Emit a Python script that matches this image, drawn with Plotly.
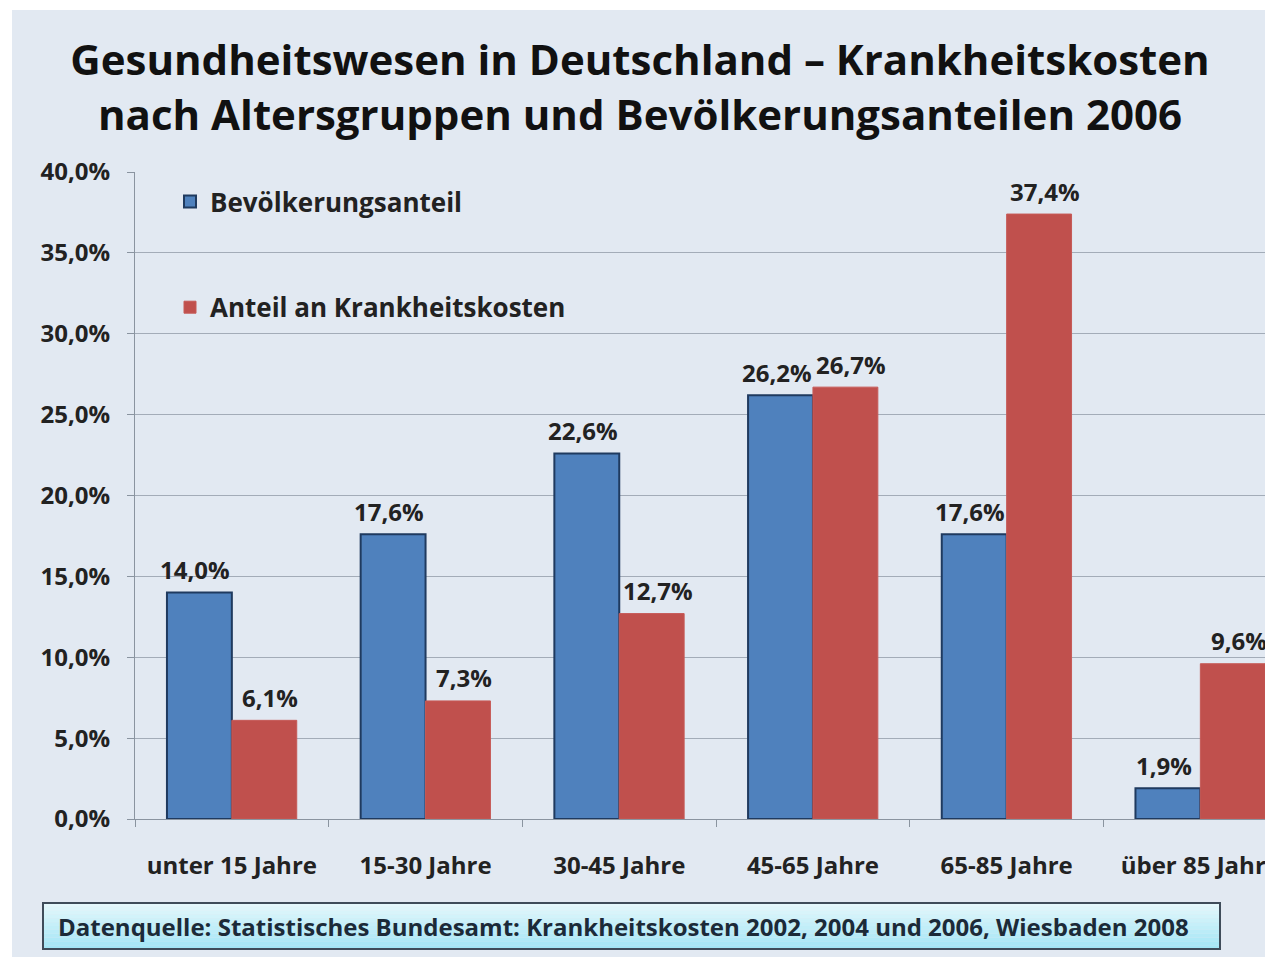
import plotly.graph_objects as go

# ---- data ----
categories = ["unter 15 Jahre", "15-30 Jahre", "30-45 Jahre", "45-65 Jahre", "65-85 Jahre", "über 85 Jahre"]
bevoelkerungsanteil = [14.0, 17.6, 22.6, 26.2, 17.6, 1.9]
krankheitskosten = [6.1, 7.3, 12.7, 26.7, 37.4, 9.6]
series_names = ["Bevölkerungsanteil", "Anteil an Krankheitskosten"]
title_lines = ["Gesundheitswesen in Deutschland – Krankheitskosten",
               "nach Altersgruppen und Bevölkerungsanteilen 2006"]
source_text = "Datenquelle: Statistisches Bundesamt: Krankheitskosten 2002, 2004 und 2006, Wiesbaden 2008"
y_ticks = [0, 5, 10, 15, 20, 25, 30, 35, 40]
y_ticktext = [("%.1f%%" % v).replace(".", ",") for v in y_ticks]

# ---- geometry (screen px; page body adds an 8px offset) ----
OFF = 8
W, H = 1273 - OFF, 957 - OFF
PLOT_L, PLOT_T, PLOT_B = 135, 172, 819          # screen coordinates
ML, MR, MT, MB = PLOT_L - OFF, 0, PLOT_T - OFF, H - (PLOT_B - OFF)
PW, PH = W - ML - MR, H - MT - MB
CAT_STEP = 193.7
BG = "#e2e9f2"
FONT = "Open Sans"
DARK = "#222222"


def px_x(sx):
    return (sx - OFF - ML) / PW


def px_y(sy):
    return (PLOT_B - sy) / PH


fig = go.Figure()
fig.add_trace(go.Bar(
    x=categories, y=bevoelkerungsanteil, name=series_names[0], legendgroup="a",
    marker=dict(color="#4f81bd", line=dict(color="#1f3a5f", width=2)),
    hoverinfo="x+y",
))
fig.add_trace(go.Bar(
    x=categories, y=krankheitskosten, name=series_names[1], legendgroup="b",
    marker=dict(color="#c0504d", line=dict(color="#c65a57", width=1)),
    hoverinfo="x+y",
))

BAR_W_PX = CAT_STEP * (1 - 0.33) / 2
annotations = []
for series, sign, extra in ((bevoelkerungsanteil, -1, -4), (krankheitskosten, 1, 6)):
    for cat, val in zip(categories, series):
        annotations.append(dict(
            x=cat, y=val, xref="x", yref="y", text=("%.1f%%" % val).replace(".", ","),
            showarrow=False, xanchor="center", yanchor="middle",
            xshift=sign * BAR_W_PX / 2 + extra, yshift=23,
            font=dict(family=FONT, size=24, color=DARK, weight="bold")))

shapes = []
# extra white margin at top and left (body margin provides 8px)
shapes.append(dict(type="rect", xref="paper", yref="paper", x0=px_x(OFF), x1=px_x(1273), y0=px_y(10), y1=px_y(OFF),
                   fillcolor="white", line=dict(width=0), layer="below"))
shapes.append(dict(type="rect", xref="paper", yref="paper", x0=px_x(OFF), x1=px_x(12), y0=px_y(957), y1=px_y(OFF),
                   fillcolor="white", line=dict(width=0), layer="below"))
# source box with gradient
bx0, bx1, by0, by1 = 43, 1220, 903, 949
n = 12
c_top = (0xe4, 0xf8, 0xfc)
c_bot = (0xa4, 0xe6, 0xf6)
for i in range(n):
    t = i / (n - 1)
    col = "rgb(%d,%d,%d)" % tuple(int(c_top[k] + (c_bot[k] - c_top[k]) * t) for k in range(3))
    ya = by0 + (by1 - by0) * i / n
    yb = by0 + (by1 - by0) * (i + 1) / n
    shapes.append(dict(type="rect", xref="paper", yref="paper", x0=px_x(bx0), x1=px_x(bx1),
                       y0=px_y(yb), y1=px_y(ya), fillcolor=col, line=dict(width=0), layer="above"))
shapes.append(dict(type="rect", xref="paper", yref="paper", x0=px_x(bx0), x1=px_x(bx1),
                   y0=px_y(by1), y1=px_y(by0), fillcolor="rgba(0,0,0,0)",
                   line=dict(color="#3f4c5a", width=2), layer="above"))

annotations.append(dict(text=source_text, xref="paper", yref="paper", x=px_x(56), y=px_y((by0 + by1) / 2),
                        xanchor="left", yanchor="middle", showarrow=False,
                        font=dict(family=FONT, size=24, color="#1c2a38", weight="bold")))

fig.update_layout(
    width=W, height=H,
    margin=dict(l=ML, r=MR, t=MT, b=MB, autoexpand=False),
    paper_bgcolor=BG, plot_bgcolor=BG,
    separators=",.",
    barmode="group", bargap=0.33, bargroupgap=0.0,
    title=dict(text="<br>".join(title_lines), x=(640 - OFF) / W, xref="container", xanchor="center",
               y=1 - (75 - OFF) / H, yanchor="middle",
               font=dict(family=FONT, size=42, color="#111111", weight="bold")),
    legend=dict(x=px_x(170), y=px_y(178), xanchor="left", yanchor="top",
                bgcolor="rgba(0,0,0,0)", traceorder="grouped", tracegroupgap=69,
                font=dict(family=FONT, size=26, color=DARK, weight="bold"),
                itemwidth=30),
    shapes=shapes, annotations=annotations,
    xaxis=dict(range=[-0.5, -0.5 + PW / CAT_STEP], showgrid=False, showline=True,
               linecolor="#8a94a0", linewidth=1, ticks="outside", tickson="boundaries",
               ticklen=7, tickcolor="#8a94a0", ticklabelstandoff=25,
               tickfont=dict(family=FONT, size=24, color=DARK, weight="bold")),
    yaxis=dict(range=[0, 40], tickvals=y_ticks, ticktext=y_ticktext,
               showgrid=True, gridcolor="#a3acb8", gridwidth=1, zeroline=False,
               showline=True, linecolor="#8a94a0", linewidth=1,
               ticks="outside", ticklen=7, tickcolor="#8a94a0", ticklabelstandoff=12,
               tickfont=dict(family=FONT, size=24, color=DARK, weight="bold")),
)

fig.write_html("out.html")
